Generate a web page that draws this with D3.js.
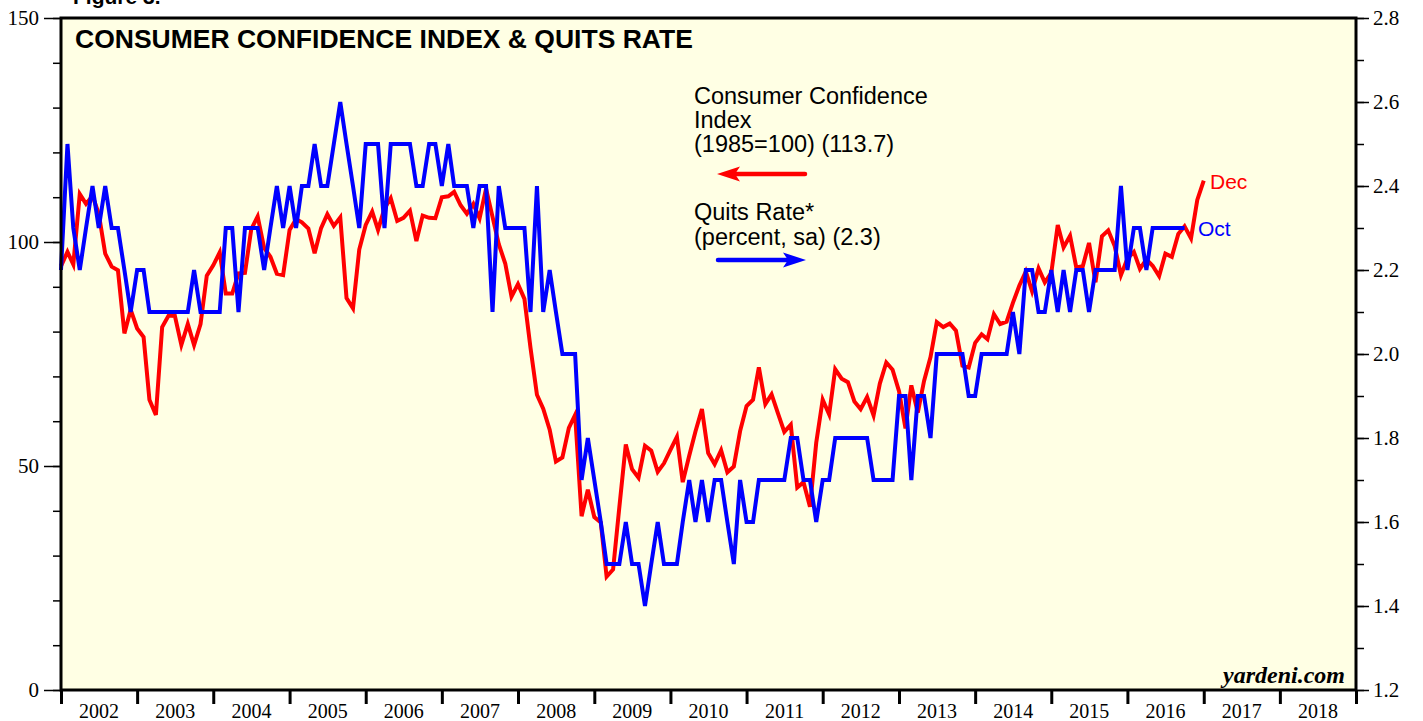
<!DOCTYPE html>
<html>
<head>
<meta charset="utf-8">
<script src="https://cdn.jsdelivr.net/npm/d3@7"></script>
<style>
  body { margin: 0; background: #fff; }
  svg { display: block; }
</style>
</head>
<body>
<div id="container"></div>
<script>
// monthly values, first point is Dec 2001 (plotted at month end)
let cciStart = new Date(2001, 11, 1)
let cciValues = [
  94.6,
  97.8, 95.0, 110.7, 108.5, 110.3, 106.3, 97.4, 94.5, 93.7, 79.6, 84.9, 80.7, // 2002
  78.8, 64.8, 61.4, 81.0, 83.6, 83.5, 77.0, 81.7, 77.0, 81.7, 92.5, 94.8, // 2003
  97.7, 88.5, 88.5, 93.0, 93.1, 102.8, 105.7, 98.7, 96.7, 92.9, 92.6, 102.7, // 2004
  105.1, 104.4, 103.0, 97.5, 103.1, 106.2, 103.6, 105.5, 87.5, 85.2, 98.3, 103.8, // 2005
  106.8, 102.7, 107.5, 109.8, 104.7, 105.4, 107.0, 100.2, 105.9, 105.4, 105.3, 110.0, // 2006
  110.2, 111.2, 108.2, 106.3, 108.5, 105.3, 111.9, 105.6, 99.5, 95.2, 87.8, 90.6, // 2007
  87.3, 76.4, 65.9, 62.8, 58.1, 51.0, 51.9, 58.5, 61.4, 38.8, 44.7, 38.6, // 2008
  37.4, 25.3, 26.9, 40.8, 54.8, 49.3, 47.4, 54.5, 53.4, 48.7, 50.6, 53.6, // 2009
  56.5, 46.4, 52.3, 57.7, 62.7, 52.9, 50.4, 53.5, 48.6, 49.9, 57.8, 63.4, // 2010
  64.8, 72.0, 63.8, 66.0, 61.7, 57.6, 59.2, 45.2, 46.4, 40.9, 55.2, 64.8, // 2011
  61.5, 71.6, 69.5, 68.7, 64.4, 62.7, 65.4, 61.3, 68.4, 73.1, 71.5, 66.7, // 2012
  58.4, 68.0, 61.9, 69.0, 74.3, 82.1, 81.0, 81.8, 80.2, 72.4, 72.0, 77.5, // 2013
  79.4, 78.3, 83.9, 81.7, 82.2, 86.4, 90.3, 93.4, 89.0, 94.1, 91.0, 93.1, // 2014
  103.8, 98.8, 101.4, 94.3, 94.6, 99.8, 91.0, 101.3, 102.6, 99.1, 92.6, 96.3, // 2015
  97.8, 94.0, 96.1, 94.7, 92.4, 97.4, 96.7, 101.8, 103.5, 100.8, 109.4, 113.7 // 2016
]

let quitsStart = new Date(2001, 11, 1)
let quitsValues = [
  2.2,
  2.5, 2.3, 2.2, 2.3, 2.4, 2.3, 2.4, 2.3, 2.3, 2.2, 2.1, 2.2, // 2002
  2.2, 2.1, 2.1, 2.1, 2.1, 2.1, 2.1, 2.1, 2.2, 2.1, 2.1, 2.1, // 2003
  2.1, 2.3, 2.3, 2.1, 2.3, 2.3, 2.3, 2.2, 2.3, 2.4, 2.3, 2.4, // 2004
  2.3, 2.4, 2.4, 2.5, 2.4, 2.4, 2.5, 2.6, 2.5, 2.4, 2.3, 2.5, // 2005
  2.5, 2.5, 2.3, 2.5, 2.5, 2.5, 2.5, 2.4, 2.4, 2.5, 2.5, 2.4, // 2006
  2.5, 2.4, 2.4, 2.4, 2.3, 2.4, 2.4, 2.1, 2.4, 2.3, 2.3, 2.3, // 2007
  2.3, 2.1, 2.4, 2.1, 2.2, 2.1, 2.0, 2.0, 2.0, 1.7, 1.8, 1.7, // 2008
  1.6, 1.5, 1.5, 1.5, 1.6, 1.5, 1.5, 1.4, 1.5, 1.6, 1.5, 1.5, // 2009
  1.5, 1.6, 1.7, 1.6, 1.7, 1.6, 1.7, 1.7, 1.6, 1.5, 1.7, 1.6, // 2010
  1.6, 1.7, 1.7, 1.7, 1.7, 1.7, 1.8, 1.8, 1.7, 1.7, 1.6, 1.7, // 2011
  1.7, 1.8, 1.8, 1.8, 1.8, 1.8, 1.8, 1.7, 1.7, 1.7, 1.7, 1.9, // 2012
  1.9, 1.7, 1.9, 1.9, 1.8, 2.0, 2.0, 2.0, 2.0, 2.0, 1.9, 1.9, // 2013
  2.0, 2.0, 2.0, 2.0, 2.0, 2.1, 2.0, 2.2, 2.2, 2.1, 2.1, 2.2, // 2014
  2.1, 2.2, 2.1, 2.2, 2.2, 2.1, 2.2, 2.2, 2.2, 2.2, 2.4, 2.2, // 2015
  2.3, 2.3, 2.2, 2.3, 2.3, 2.3, 2.3, 2.3, 2.3 // 2016 (to Oct)
]

let years = d3.range(2002, 2019)
let leftMajor = [0, 50, 100, 150]
let rightMajor = [1.2, 1.4, 1.6, 1.8, 2.0, 2.2, 2.4, 2.6, 2.8]

let width = 1423,
  height = 721

let plotLeft = 61, plotRight = 1356, plotTop = 18, plotBottom = 690

let svg = d3.select('#container')
  .append('svg')
  .attr('width', width)
  .attr('height', height)

let x = d3.scaleTime()
  .domain([new Date(2002, 0, 1), new Date(2019, 0, 1)])
  .range([plotLeft, plotRight])

let yLeft = d3.scaleLinear().domain([0, 150]).range([plotBottom, plotTop])
let yRight = d3.scaleLinear().domain([1.2, 2.8]).range([plotBottom, plotTop])

// plot background
svg.append('rect')
  .attr('x', plotLeft).attr('y', plotTop)
  .attr('width', plotRight - plotLeft).attr('height', plotBottom - plotTop)
  .attr('fill', '#ffffe4')

// cut-off figure label at the top
svg.append('text')
  .attr('x', 73).attr('y', 4)
  .attr('font-family', 'Liberation Sans, Arial, sans-serif')
  .attr('font-weight', 'bold')
  .attr('font-size', 21)
  .text('Figure 3.')

// left axis, minor then major
let leftMinor = svg.append('g')
  .attr('transform', `translate(${plotLeft},0)`)
  .call(d3.axisLeft(yLeft).tickValues(d3.range(0, 151, 10)).tickSize(8).tickFormat(''))
let leftAxis = svg.append('g')
  .attr('transform', `translate(${plotLeft},0)`)
  .call(d3.axisLeft(yLeft).tickValues(leftMajor).tickSize(17).tickPadding(5))

// right axis
let rightMinor = svg.append('g')
  .attr('transform', `translate(${plotRight},0)`)
  .call(d3.axisRight(yRight).tickValues(d3.range(12, 29).map(d => d / 10)).tickSize(8).tickFormat(''))
let rightAxis = svg.append('g')
  .attr('transform', `translate(${plotRight},0)`)
  .call(d3.axisRight(yRight).tickValues(rightMajor).tickSize(13).tickPadding(4).tickFormat(d3.format('.1f')))

// bottom year ticks
let bottomAxis = svg.append('g')
  .attr('transform', `translate(0,${plotBottom})`)
  .call(d3.axisBottom(x).tickValues(d3.range(2002, 2020).map(yr => new Date(yr, 0, 1))).tickSize(14).tickFormat(''))

;[leftMinor, leftAxis, rightMinor, rightAxis, bottomAxis].forEach(g => {
  g.select('.domain').remove()
  g.selectAll('line').attr('stroke', '#000').attr('stroke-width', 1.5)
  g.selectAll('text')
    .attr('fill', '#000')
    .attr('font-family', 'Liberation Serif, Times New Roman, serif')
    .attr('font-size', 21)
})
bottomAxis.selectAll('line').attr('stroke-width', 3)

// year labels centred in each year
svg.append('g').selectAll('text')
  .data(years)
  .join('text')
  .attr('x', d => (x(new Date(d, 0, 1)) + x(new Date(d + 1, 0, 1))) / 2)
  .attr('y', 718)
  .attr('text-anchor', 'middle')
  .attr('font-family', 'Liberation Serif, Times New Roman, serif')
  .attr('font-size', 20)
  .text(d => d)

// series
let cciData = cciValues.map((v, i) => ({ date: d3.timeMonth.offset(cciStart, i + 1), value: v }))
let quitsData = quitsValues.map((v, i) => ({ date: d3.timeMonth.offset(quitsStart, i + 1), value: v }))

svg.append('path')
  .datum(cciData)
  .attr('fill', 'none')
  .attr('stroke', '#ff0000')
  .attr('stroke-width', 4)
  .attr('d', d3.line().x(d => x(d.date)).y(d => yLeft(d.value)))

svg.append('path')
  .datum(quitsData)
  .attr('fill', 'none')
  .attr('stroke', '#0000ff')
  .attr('stroke-width', 4)
  .attr('d', d3.line().x(d => x(d.date)).y(d => yRight(d.value)))

// frame
svg.append('rect')
  .attr('x', plotLeft).attr('y', plotTop)
  .attr('width', plotRight - plotLeft).attr('height', plotBottom - plotTop)
  .attr('fill', 'none')
  .attr('stroke', '#000')
  .attr('stroke-width', 3)

// title
svg.append('text')
  .attr('x', 75).attr('y', 48)
  .attr('font-family', 'Liberation Sans, Arial, sans-serif')
  .attr('font-weight', 'bold')
  .attr('font-size', 26.5)
  .text('CONSUMER CONFIDENCE INDEX & QUITS RATE')

// legend
let legendFont = 'Liberation Sans, Arial, sans-serif'
let legendLines = [
  { text: 'Consumer Confidence', y: 104 },
  { text: 'Index', y: 128 },
  { text: '(1985=100) (113.7)', y: 152 },
  { text: 'Quits Rate*', y: 220 },
  { text: '(percent, sa) (2.3)', y: 245 }
]
svg.append('g').selectAll('text')
  .data(legendLines)
  .join('text')
  .attr('x', 694)
  .attr('y', d => d.y)
  .attr('font-family', legendFont)
  .attr('font-size', 23.5)
  .text(d => d.text)

function arrow(x1, x2, y, color) {
  let dir = Math.sign(x2 - x1)
  svg.append('line')
    .attr('x1', x1).attr('y1', y)
    .attr('x2', x2 - dir * 14).attr('y2', y)
    .attr('stroke', color)
    .attr('stroke-width', 4.5)
    .attr('stroke-linecap', 'round')
  svg.append('path')
    .attr('d', `M${x2},${y} L${x2 - dir * 23},${y - 7.5} L${x2 - dir * 18},${y} L${x2 - dir * 23},${y + 7.5} Z`)
    .attr('fill', color)
}
arrow(805, 717, 174, '#ff0000')
arrow(718, 806, 260, '#0000ff')

// end labels
svg.append('text')
  .attr('x', 1210).attr('y', 189)
  .attr('font-family', legendFont)
  .attr('font-size', 21)
  .attr('fill', '#ff0000')
  .text('Dec')

svg.append('text')
  .attr('x', 1198).attr('y', 236)
  .attr('font-family', legendFont)
  .attr('font-size', 21)
  .attr('fill', '#0000ff')
  .text('Oct')

// source
svg.append('text')
  .attr('x', 1345).attr('y', 683)
  .attr('text-anchor', 'end')
  .attr('font-family', 'Liberation Serif, Times New Roman, serif')
  .attr('font-weight', 'bold')
  .attr('font-style', 'italic')
  .attr('font-size', 24)
  .text('yardeni.com')
</script>
</body>
</html>
